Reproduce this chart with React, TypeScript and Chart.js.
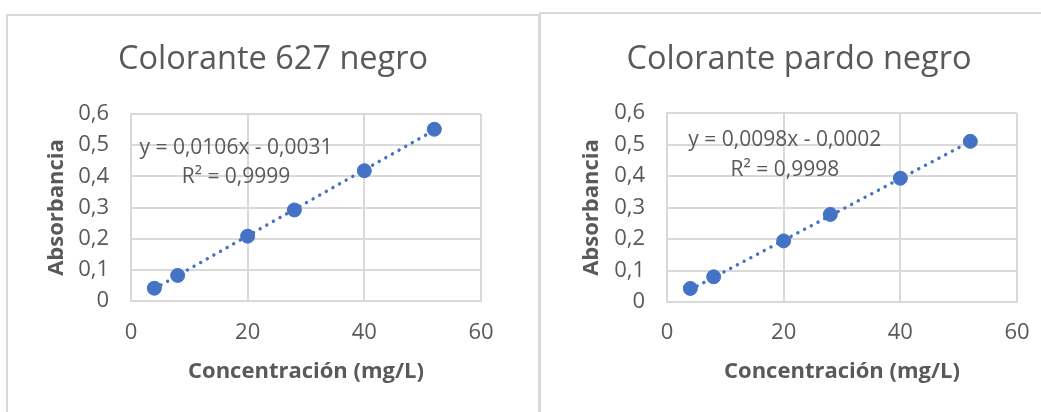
import React, { useEffect, useRef } from "react";
import { Chart, registerables } from "chart.js";

Chart.register(...registerables);

// ---- Data ----
const concentrations = [4, 8, 20, 28, 40, 52];
const absorbance627 = [0.041, 0.082, 0.208, 0.292, 0.418, 0.551];
const absorbancePardo = [0.043, 0.080, 0.194, 0.278, 0.393, 0.510];
const trendX = [4, 52];
const trend627 = [0.0393, 0.5481];
const trendPardo = [0.039, 0.5094];
const xTicks = [0, 20, 40, 60];
const yTicks = [0, 0.1, 0.2, 0.3, 0.4, 0.5, 0.6];
const yTickLabels = ["0", "0,1", "0,2", "0,3", "0,4", "0,5", "0,6"];
const titles = ["Colorante 627 negro", "Colorante pardo negro"];
const equations = ["y = 0,0106x - 0,0031", "y = 0,0098x - 0,0002"];
const r2Labels = ["R² = 0,9999", "R² = 0,9998"];
const xAxisTitle = "Concentración (mg/L)";
const yAxisTitle = "Absorbancia";

// ---- Styles ----
const BLUE = "#4472C4";
const TEXT = "#595959";
const GRID = "#d9d9d9";
const FAMILY = "'Open Sans', 'Noto Sans', sans-serif";
const TITLE_SIZE = 32.5;
const TICK_SIZE = 22;
const AXIS_TITLE_SIZE = 22;
const EQ_SIZE = 21;

type Panel = {
  values: number[];
  trend: number[];
  title: string;
  eq: string;
  r2: string;
  eqPos: { x: number; y1: number; y2: number };
  cx: number; cy: number; w: number; h: number;
  L: number; T: number; R: number; B: number;
  titleX: number; titleY: number; yTitleX: number; xTitleY: number; xTickY: number;
};

const panels: Panel[] = [
  {
    values: absorbance627, trend: trend627, title: titles[0], eq: equations[0], r2: r2Labels[0],
    eqPos: { x: 18.0, y1: 0.491, y2: 0.398 },
    cx: 8, cy: 16, w: 530, h: 396,
    L: 131, T: 114, R: 481, B: 301,
    titleX: 273, titleY: 60, yTitleX: 57, xTitleY: 372, xTickY: 333,
  },
  {
    values: absorbancePardo, trend: trendPardo, title: titles[1], eq: equations[1], r2: r2Labels[1],
    eqPos: { x: 20.2, y1: 0.514, y2: 0.419 },
    cx: 541, cy: 15, w: 516, h: 397,
    L: 667, T: 113, R: 1017, B: 302,
    titleX: 799, titleY: 60, yTitleX: 592, xTitleY: 372, xTickY: 333,
  },
];

function ChartPanel({ p }: { p: Panel }) {
  const ref = useRef<HTMLCanvasElement>(null);
  useEffect(() => {
    const tickLH = TICK_SIZE * 1.2;
    const axLH = AXIS_TITLE_SIZE * 1.2;
    const yAxisWidth = p.L - p.cx;
    const padRight = p.cx + p.w - p.R;
    const padTop = p.T - p.cy;
    const xAxisHeight = p.cy + p.h - p.B;
    const xTitlePadBottom = p.cy + p.h - p.xTitleY - axLH / 2;
    const yTitlePadTop = p.yTitleX - p.cx - axLH / 2;
    const xTickPad = p.xTickY - p.B - tickLH / 2;

    const textPlugin = {
      id: "panelText",
      afterDatasetsDraw(chart: any) {
        const { ctx, scales } = chart;
        ctx.save();
        ctx.fillStyle = TEXT;
        ctx.textAlign = "center";
        ctx.textBaseline = "middle";
        // chart title
        ctx.font = `${TITLE_SIZE}px ${FAMILY}`;
        ctx.fillText(p.title, p.titleX - p.cx, p.titleY - p.cy);
        // trendline equation
        ctx.font = `${EQ_SIZE}px ${FAMILY}`;
        const x = scales.x.getPixelForValue(p.eqPos.x);
        ctx.fillText(p.eq, x, scales.y.getPixelForValue(p.eqPos.y1));
        ctx.fillText(p.r2, x, scales.y.getPixelForValue(p.eqPos.y2));
        ctx.restore();
      },
    };

    const chart = new Chart(ref.current as HTMLCanvasElement, {
      type: "scatter",
      data: {
        datasets: [
          {
            data: concentrations.map((x, i) => ({ x, y: p.values[i] })),
            backgroundColor: BLUE,
            borderColor: BLUE,
            pointRadius: 7,
            pointBorderWidth: 1,
            pointHoverRadius: 7,
            order: 0,
          } as any,
          {
            data: trendX.map((x, i) => ({ x, y: p.trend[i] })),
            showLine: true,
            borderColor: BLUE,
            backgroundColor: BLUE,
            borderWidth: 3.4,
            borderDash: [0.1, 7.5],
            borderCapStyle: "round",
            pointRadius: 0,
            pointHoverRadius: 0,
            fill: false,
            order: 1,
          } as any,
        ],
      },
      options: {
        responsive: false,
        animation: false,
        devicePixelRatio: 1,
        events: [],
        layout: { padding: { left: 0, right: padRight, top: padTop, bottom: 0 } },
        plugins: {
          legend: { display: false },
          tooltip: { enabled: false },
          title: { display: false },
        },
        scales: {
          x: {
            type: "linear",
            min: 0,
            max: 60,
            afterBuildTicks: (s: any) => {
              s.ticks = xTicks.map((v) => ({ value: v }));
            },
            afterFit: (s: any) => {
              s.height = xAxisHeight;
            },
            ticks: {
              color: TEXT,
              font: { family: FAMILY, size: TICK_SIZE, lineHeight: 1.2 },
              padding: xTickPad,
              maxRotation: 0,
              callback: (v: any) => String(v),
            },
            grid: { color: GRID, lineWidth: 2, drawTicks: false },
            border: { color: GRID, width: 2 },
            title: {
              display: true,
              text: xAxisTitle,
              color: TEXT,
              font: { family: FAMILY, size: AXIS_TITLE_SIZE, weight: "bold", lineHeight: 1.2 },
              padding: { top: 0, bottom: xTitlePadBottom },
            },
          },
          y: {
            type: "linear",
            min: 0,
            max: 0.6,
            afterBuildTicks: (s: any) => {
              s.ticks = yTicks.map((v) => ({ value: v }));
            },
            afterFit: (s: any) => {
              s.width = yAxisWidth;
            },
            ticks: {
              color: TEXT,
              font: { family: FAMILY, size: TICK_SIZE, lineHeight: 1.2 },
              padding: 22,
              callback: (_v: any, i: number) => yTickLabels[i],
            },
            grid: { color: GRID, lineWidth: 2, drawTicks: false },
            border: { color: GRID, width: 2 },
            title: {
              display: true,
              text: yAxisTitle,
              color: TEXT,
              font: { family: FAMILY, size: AXIS_TITLE_SIZE, weight: "bold", lineHeight: 1.2 },
              padding: { top: yTitlePadTop, bottom: 0 },
            },
          },
        },
      } as any,
      plugins: [textPlugin],
    });
    return () => chart.destroy();
  }, [p]);

  return (
    <canvas
      ref={ref}
      width={p.w}
      height={p.h}
      style={{ position: "absolute", left: p.cx, top: p.cy, width: p.w, height: p.h }}
    />
  );
}

export default function App() {
  return (
    <div
      style={{
        position: "fixed",
        left: 0,
        top: 0,
        width: 1041,
        height: 412,
        overflow: "hidden",
        background: "#fff",
      }}
    >
      <div
        style={{
          position: "absolute",
          left: 6,
          top: 14,
          width: 530,
          height: 420,
          border: `2px solid ${GRID}`,
          boxSizing: "content-box",
        }}
      />
      <div
        style={{
          position: "absolute",
          left: 539,
          top: 12,
          width: 520,
          height: 420,
          border: `2px solid ${GRID}`,
        }}
      />
      {panels.map((p, i) => (
        <ChartPanel key={i} p={p} />
      ))}
    </div>
  );
}
